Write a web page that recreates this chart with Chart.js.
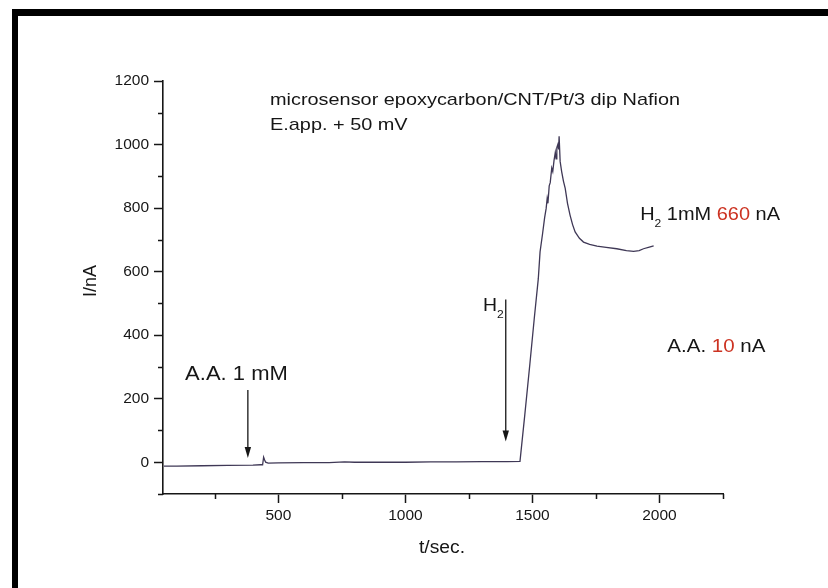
<!DOCTYPE html>
<html>
<head>
<meta charset="utf-8">
<script src="https://cdn.jsdelivr.net/npm/chart.js@4/dist/chart.umd.min.js"></script>
<style>
  html, body { margin: 0; padding: 0; background: #fff; }
  canvas { display: block; }
</style>
</head>
<body>
<canvas id="c" width="828" height="588"></canvas>
<script>
// Amperometric trace: time (s) and current (nA)
const times = [
  50, 100, 200, 300, 400, 430, 438, 442, 446, 450, 460, 500, 600, 700, 760, 800,
  900, 1000, 1100, 1200, 1300, 1400, 1451,
  1470, 1490, 1507, 1523, 1530, 1540, 1548, 1554, 1558, 1561, 1566, 1570, 1576,
  1580, 1585, 1590, 1593, 1596, 1600, 1603, 1605,
  1609, 1615, 1622, 1629, 1638, 1648, 1658, 1668, 1685, 1701, 1725, 1754, 1790,
  1832, 1870, 1898, 1920, 1937, 1960, 1977
];
const current = [
  -12, -12, -11, -10, -9, -8, -8, 16, 7, 0, -3, -2, -1, -1, 1, 0,
  0, 0, 1, 1, 2, 2, 3,
  150, 310, 451, 577, 662, 720, 770, 799, 830, 815, 870, 880, 926,
  915, 950, 975, 955, 990, 1000, 985, 1026,
  947, 915, 885, 862, 815, 778, 748, 725, 705, 693, 686, 680, 676,
  672, 666, 664, 666, 672, 677, 681
];

// Axis ticks: every value gets a tick mark, only these carry labels
const xTickValues = [250, 500, 750, 1000, 1250, 1500, 1750, 2000, 2250];
const xTickLabels = [500, 1000, 1500, 2000];
const yTickValues = [-100, 0, 100, 200, 300, 400, 500, 600, 700, 800, 900, 1000, 1100, 1200];
const yTickLabels = [0, 200, 400, 600, 800, 1000, 1200];

// Marker arrows: [t, from I, to I]
const arrows = [[380, 227, 13], [1395, 512, 65]];

const FONT = '"Liberation Sans", Arial, Helvetica, sans-serif';
const INK = '#161616';
const RED = '#cc3322';

const frame = {
  id: 'frame',
  beforeDraw(chart) {
    const ctx = chart.ctx;
    ctx.save();
    ctx.fillStyle = '#fff';
    ctx.fillRect(0, 0, chart.width, chart.height);
    ctx.fillStyle = '#000';
    ctx.fillRect(12, 9, chart.width - 12, 7);
    ctx.fillRect(12, 9, 6, chart.height - 9);
    ctx.restore();
  }
};

// Draw a run of text pieces, stretched horizontally by k
function runs(ctx, x, y, k, parts) {
  ctx.save();
  ctx.translate(x, y);
  ctx.scale(k, 1);
  let cx = 0;
  for (const [txt, size, color, dy] of parts) {
    ctx.font = size + 'px ' + FONT;
    ctx.fillStyle = color;
    ctx.fillText(txt, cx, dy || 0);
    cx += ctx.measureText(txt).width;
  }
  ctx.restore();
}

const notes = {
  id: 'notes',
  afterDraw(chart) {
    const ctx = chart.ctx;
    const xs = chart.scales.x, ys = chart.scales.y;
    const X = v => xs.getPixelForValue(v), Y = v => ys.getPixelForValue(v);
    ctx.save();

    // minor tick marks
    ctx.strokeStyle = INK;
    ctx.lineWidth = 1.5;
    ctx.beginPath();
    xTickValues.filter(v => !xTickLabels.includes(v)).forEach(v => {
      const px = Math.round(X(v)) + 0.5;
      ctx.moveTo(px, chart.chartArea.bottom);
      ctx.lineTo(px, chart.chartArea.bottom + 5);
    });
    yTickValues.filter(v => !yTickLabels.includes(v)).forEach(v => {
      const py = Math.round(Y(v)) + 0.5;
      ctx.moveTo(chart.chartArea.left, py);
      ctx.lineTo(chart.chartArea.left - 5, py);
    });
    ctx.stroke();

    // arrows
    ctx.lineWidth = 1.3;
    ctx.fillStyle = INK;
    arrows.forEach(([t, a, b]) => {
      const px = X(t), y0 = Y(a), y1 = Y(b);
      ctx.beginPath();
      ctx.moveTo(px, y0);
      ctx.lineTo(px, y1 - 10);
      ctx.stroke();
      ctx.beginPath();
      ctx.moveTo(px, y1);
      ctx.lineTo(px - 3.2, y1 - 11);
      ctx.lineTo(px + 3.2, y1 - 11);
      ctx.closePath();
      ctx.fill();
    });

    ctx.textBaseline = 'alphabetic';
    ctx.textAlign = 'left';
    runs(ctx, X(467), Y(1125), 1.17, [['microsensor epoxycarbon/CNT/Pt/3 dip Nafion', 17, INK]]);
    runs(ctx, X(467), Y(1047), 1.17, [['E.app. + 50 mV', 17, INK]]);
    runs(ctx, X(133), Y(258), 1.1, [['A.A. 1 mM', 20, INK]]);
    runs(ctx, X(1305), Y(477), 1.05, [['H', 18.5, INK], ['2', 11.5, INK, 7]]);
    runs(ctx, X(1924), Y(762), 1.05, [['H', 19, INK], ['2', 11.5, INK, 7], [' 1mM ', 19, INK], ['660', 19, RED], [' nA', 19, INK]]);
    runs(ctx, X(2031), Y(347), 1.08, [['A.A. ', 19, INK], ['10', 19, RED], [' nA', 19, INK]]);

    // axis titles
    ctx.fillStyle = INK;
    ctx.font = '18px ' + FONT;
    ctx.textAlign = 'center';
    ctx.textBaseline = 'middle';
    ctx.save();
    ctx.translate(442, 548);
    ctx.scale(1.07, 1);
    ctx.fillText('t/sec.', 0, 0);
    ctx.restore();
    ctx.translate(91, 281);
    ctx.rotate(-Math.PI / 2);
    ctx.fillText('I/nA', 0, 0);
    ctx.restore();
  }
};

const tickFont = { family: FONT, size: 15.5 };

new Chart(document.getElementById('c'), {
  type: 'line',
  data: {
    datasets: [{
      data: times.map((t, i) => ({ x: t, y: current[i] })),
      borderColor: '#3f3856',
      borderWidth: 1.3,
      pointRadius: 0,
      tension: 0,
      fill: false
    }]
  },
  options: {
    responsive: false,
    animation: false,
    events: [],
    layout: { padding: { top: 81, right: 105, left: 0, bottom: 0 } },
    plugins: { legend: { display: false }, tooltip: { enabled: false } },
    scales: {
      x: {
        type: 'linear',
        min: 46,
        max: 2250,
        afterBuildTicks: s => { s.ticks = xTickValues.map(v => ({ value: v })); },
        afterFit: s => { s.height = 94; },
        ticks: {
          autoSkip: false,
          maxRotation: 0,
          padding: 3,
          color: INK,
          font: tickFont,
          callback: v => xTickLabels.includes(v) ? String(v) : ''
        },
        grid: {
          drawOnChartArea: false,
          drawTicks: true,
          tickLength: 9,
          tickWidth: 1.5,
          tickColor: c => xTickLabels.includes(c.tick.value) ? INK : 'rgba(0,0,0,0)'
        },
        border: { display: true, color: INK, width: 1.6 }
      },
      y: {
        type: 'linear',
        min: -100,
        max: 1200,
        afterBuildTicks: s => { s.ticks = yTickValues.map(v => ({ value: v })); },
        afterFit: s => { s.width = 163; },
        ticks: {
          autoSkip: false,
          padding: 5,
          color: INK,
          font: tickFont,
          callback: v => yTickLabels.includes(v) ? String(v) : ''
        },
        grid: {
          drawOnChartArea: false,
          drawTicks: true,
          tickLength: 9,
          tickWidth: 1.5,
          tickColor: c => yTickLabels.includes(c.tick.value) ? INK : 'rgba(0,0,0,0)'
        },
        border: { display: true, color: INK, width: 1.6 }
      }
    }
  },
  plugins: [frame, notes]
});
</script>
</body>
</html>
